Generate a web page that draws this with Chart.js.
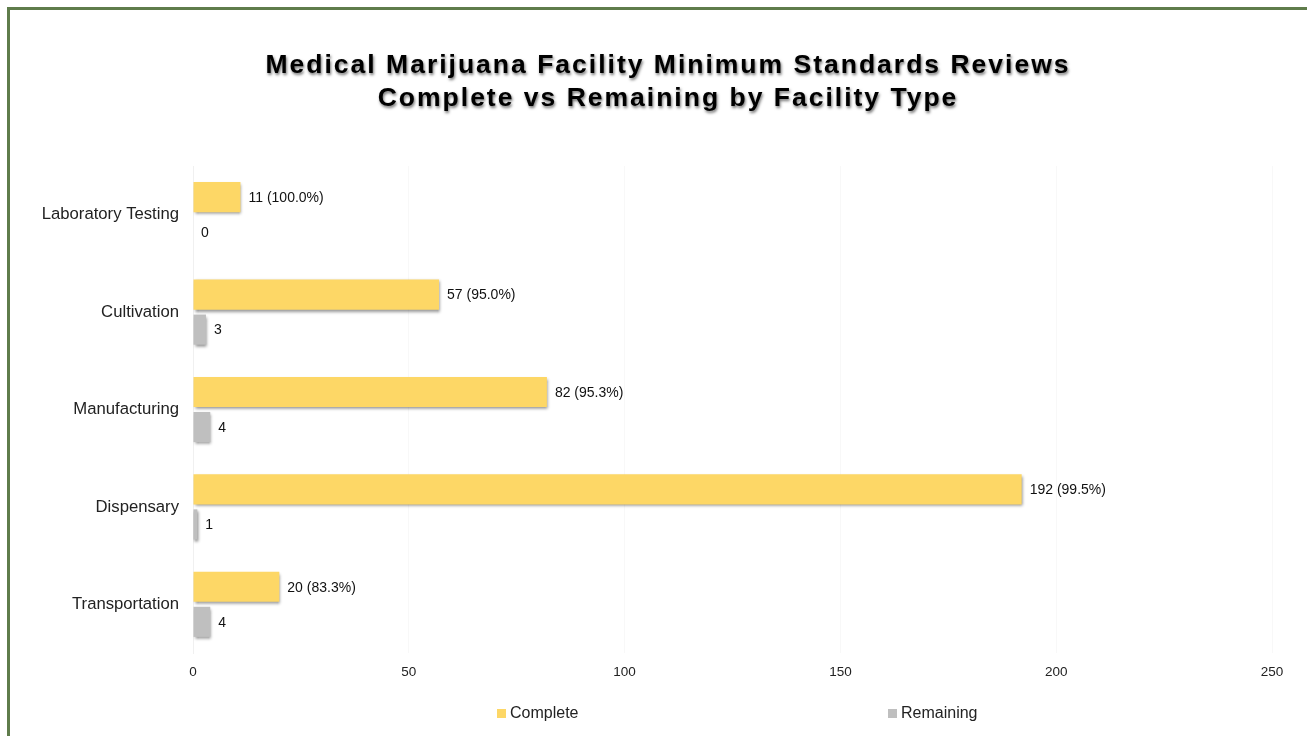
<!DOCTYPE html>
<html>
<head>
<meta charset="utf-8">
<script src="https://cdn.jsdelivr.net/npm/chart.js@4"></script>
<style>
  html, body { margin: 0; padding: 0; background: #fff; overflow: hidden; }
  #wrap { position: relative; width: 1307px; height: 736px; }
  #frame { position: absolute; left: 7px; top: 7px; width: 1320px; height: 760px; border: 3px solid #5f7c4b; box-sizing: border-box; pointer-events: none; }
  #legend { position: absolute; top: 704px; left: 0; width: 1307px; font: 16px "Liberation Sans", Arial, sans-serif; color: #222; }
  #legend span { position: absolute; display: flex; align-items: center; white-space: nowrap; }
  #legend i { display: inline-block; width: 9px; height: 9px; margin-right: 4px; }
</style>
</head>
<body>
<div id="wrap">
  <canvas id="chart" width="1307" height="736"></canvas>
  <div id="frame"></div>
  <div id="legend">
    <span style="left:497px"><i style="background:#fdd766"></i>Complete</span>
    <span style="left:888px"><i style="background:#bfbfbf"></i>Remaining</span>
  </div>
</div>
<script>
// 시설 유형별 검토 현황
const categories = ['Laboratory Testing', 'Cultivation', 'Manufacturing', 'Dispensary', 'Transportation'];
const complete = [11, 57, 82, 192, 20];
const remaining = [0, 3, 4, 1, 4];
const xTicks = [0, 50, 100, 150, 200, 250];
const titleLines = ['Medical Marijuana Facility Minimum Standards Reviews', 'Complete vs Remaining by Facility Type'];

const FONT = '"Liberation Sans", Arial, sans-serif';

// 제목 — 글자 간격 + 그림자
const titlePlugin = {
  id: 'shadowTitle',
  afterDraw(chart) {
    const ctx = chart.ctx;
    ctx.save();
    ctx.font = 'bold 26.5px ' + FONT;
    ctx.letterSpacing = '2px';
    ctx.fillStyle = '#000';
    ctx.textAlign = 'center';
    ctx.textBaseline = 'middle';
    ctx.shadowColor = 'rgba(0,0,0,0.55)';
    ctx.shadowBlur = 3;
    ctx.shadowOffsetX = 1;
    ctx.shadowOffsetY = 2;
    titleLines.forEach((t, i) => ctx.fillText(t, 668, 66 + i * 33));
    ctx.restore();
  }
};

// 막대 그림자
const barShadow = {
  id: 'barShadow',
  beforeDatasetsDraw(chart) {
    const ctx = chart.ctx;
    ctx.save();
    ctx.shadowColor = 'rgba(0,0,0,0.45)';
    ctx.shadowBlur = 3;
    ctx.shadowOffsetX = 1;
    ctx.shadowOffsetY = 2;
  },
  afterDatasetsDraw(chart) {
    chart.ctx.restore();
  }
};

// 막대 끝 값 라벨
const valueLabels = {
  id: 'valueLabels',
  afterDatasetsDraw(chart) {
    const ctx = chart.ctx;
    ctx.save();
    ctx.font = '14px ' + FONT;
    ctx.fillStyle = '#111';
    ctx.textAlign = 'left';
    ctx.textBaseline = 'middle';
    chart.data.datasets.forEach((ds, di) => {
      chart.getDatasetMeta(di).data.forEach((bar, i) => {
        let txt = String(ds.data[i]);
        if (di === 0) {
          const total = complete[i] + remaining[i];
          txt += ' (' + (complete[i] / total * 100).toFixed(1) + '%)';
        }
        ctx.fillText(txt, bar.x + 8, bar.y + 1);
      });
    });
    ctx.restore();
  }
};

new Chart(document.getElementById('chart'), {
  type: 'bar',
  data: {
    labels: categories,
    datasets: [
      { label: 'Complete', data: complete, backgroundColor: '#fdd766', categoryPercentage: 0.72, barPercentage: 0.86 },
      { label: 'Remaining', data: remaining, backgroundColor: '#bfbfbf', categoryPercentage: 0.72, barPercentage: 0.86 }
    ]
  },
  options: {
    indexAxis: 'y',
    responsive: false,
    animation: false,
    layout: { padding: { top: 166, right: 35, bottom: 53, left: 0 } },
    scales: {
      x: {
        min: 0, max: 250,
        afterBuildTicks(s) { s.ticks = xTicks.map(v => ({ value: v })); },
        afterFit(s) { s.height = 30; },
        grid: { color: '#f8f8f8', drawTicks: false },
        border: { display: false },
        ticks: { color: '#222', font: { family: FONT, size: 13.5 }, padding: 11 }
      },
      y: {
        afterFit(s) { s.width = 193; },
        grid: { display: false },
        border: { color: '#f0f0f0' },
        ticks: { color: '#222', font: { family: FONT, size: 16.7 }, padding: 6 }
      }
    },
    plugins: { legend: { display: false }, title: { display: false }, tooltip: { enabled: false } }
  },
  plugins: [barShadow, valueLabels, titlePlugin]
});
</script>
</body>
</html>
